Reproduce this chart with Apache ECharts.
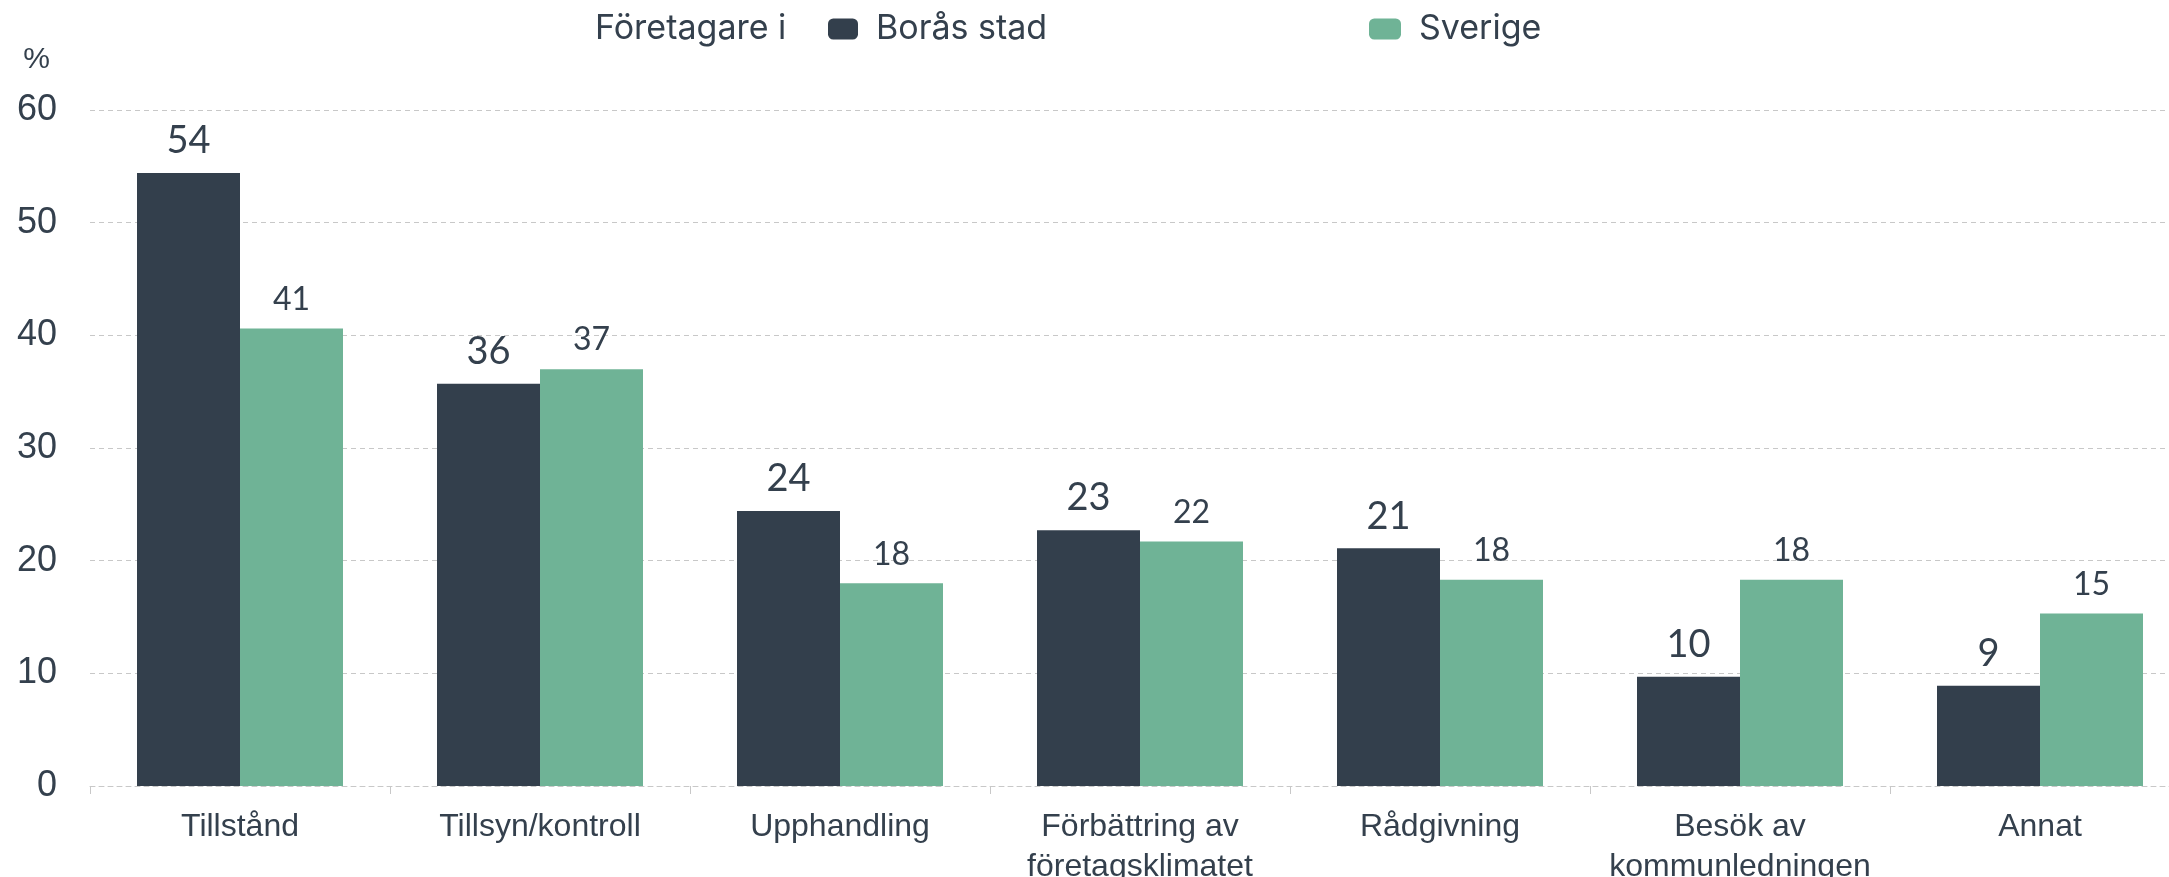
<!DOCTYPE html>
<html>
<head>
<meta charset="utf-8">
<script src="https://cdn.jsdelivr.net/npm/echarts@6/dist/echarts.min.js"></script>
<style>
html,body{margin:0;padding:0;background:#fff;}
#chart{width:2169px;height:877px;}
</style>
</head>
<body>
<div id="chart"></div>
<script>
const categories = ['Tillstånd', 'Tillsyn/kontroll', 'Upphandling', 'Förbättring av\nföretagsklimatet', 'Rådgivning', 'Besök av\nkommunledningen', 'Annat'];
const borasValues = [54.4, 35.7, 24.4, 22.7, 21.1, 9.7, 8.9];
const sverigeValues = [40.6, 37.0, 18.0, 21.7, 18.3, 18.3, 15.3];
const yTicks = [0, 10, 20, 30, 40, 50, 60];
const legendPrefix = 'Företagare i';
const seriesNames = ['Borås stad', 'Sverige'];

const TEXT = '#34404d';
const DARK = '#333f4c';
const GREEN = '#6fb396';
const GRIDC = '#c8c8c8';
const SANS = '"Liberation Sans", Arial, sans-serif';
const LEG = 'Inter, "Noto Sans", sans-serif';

const chart = echarts.init(document.getElementById('chart'));
chart.setOption({
  backgroundColor: '#fff',
  animation: false,
  graphic: [{
    type: 'text',
    left: 595,
    top: 12,
    style: { text: legendPrefix, fill: TEXT, font: '34px ' + LEG }
  }],
  legend: [{
    data: [seriesNames[0]],
    left: 828,
    top: 12,
    padding: 0,
    itemWidth: 30,
    itemHeight: 21,
    icon: 'roundRect',
    textStyle: { color: TEXT, fontSize: 34, fontFamily: LEG, padding: [0, 0, 0, 13] }
  }, {
    data: [seriesNames[1]],
    left: 1369,
    top: 12,
    padding: 0,
    itemWidth: 32,
    itemHeight: 21,
    icon: 'roundRect',
    textStyle: { color: TEXT, fontSize: 34, fontFamily: LEG, padding: [0, 0, 0, 13] }
  }],
  grid: { left: 90, top: 110, width: 2100, height: 676, containLabel: false, outerBoundsMode: 'none' },
  xAxis: {
    type: 'category',
    data: categories,
    axisLine: { show: true, lineStyle: { color: GRIDC, type: [5, 4], width: 1 } },
    axisTick: { show: true, length: 8, lineStyle: { color: GRIDC } },
    axisLabel: { interval: 0, color: TEXT, fontSize: 32, fontFamily: SANS, margin: 21, lineHeight: 40 }
  },
  yAxis: {
    type: 'value',
    min: yTicks[0],
    max: yTicks[yTicks.length - 1],
    interval: 10,
    name: '%',
    nameLocation: 'end',
    nameGap: 35,
    nameTextStyle: { color: TEXT, fontSize: 30, fontFamily: SANS, align: 'right', padding: [0, 40, 0, 0] },
    axisLine: { show: false },
    axisTick: { show: false },
    axisLabel: { color: TEXT, fontSize: 36, fontFamily: SANS, margin: 33 },
    splitLine: { show: true, lineStyle: { color: GRIDC, type: [5, 4], width: 1 } }
  },
  series: [{
    name: seriesNames[0],
    type: 'bar',
    data: borasValues,
    barWidth: 103,
    barGap: '0%',
    itemStyle: { color: DARK },
    label: {
      show: true, position: 'top', distance: 13,
      color: TEXT, fontSize: 38, fontFamily: 'Lato, sans-serif',
      formatter: p => Math.round(p.value)
    }
  }, {
    name: seriesNames[1],
    type: 'bar',
    data: sverigeValues,
    barWidth: 103,
    barGap: '0%',
    itemStyle: { color: GREEN },
    label: {
      show: true, position: 'top', distance: 13,
      color: TEXT, fontSize: 32, fontFamily: 'Lato, sans-serif',
      formatter: p => Math.round(p.value)
    }
  }]
});
</script>
</body>
</html>
